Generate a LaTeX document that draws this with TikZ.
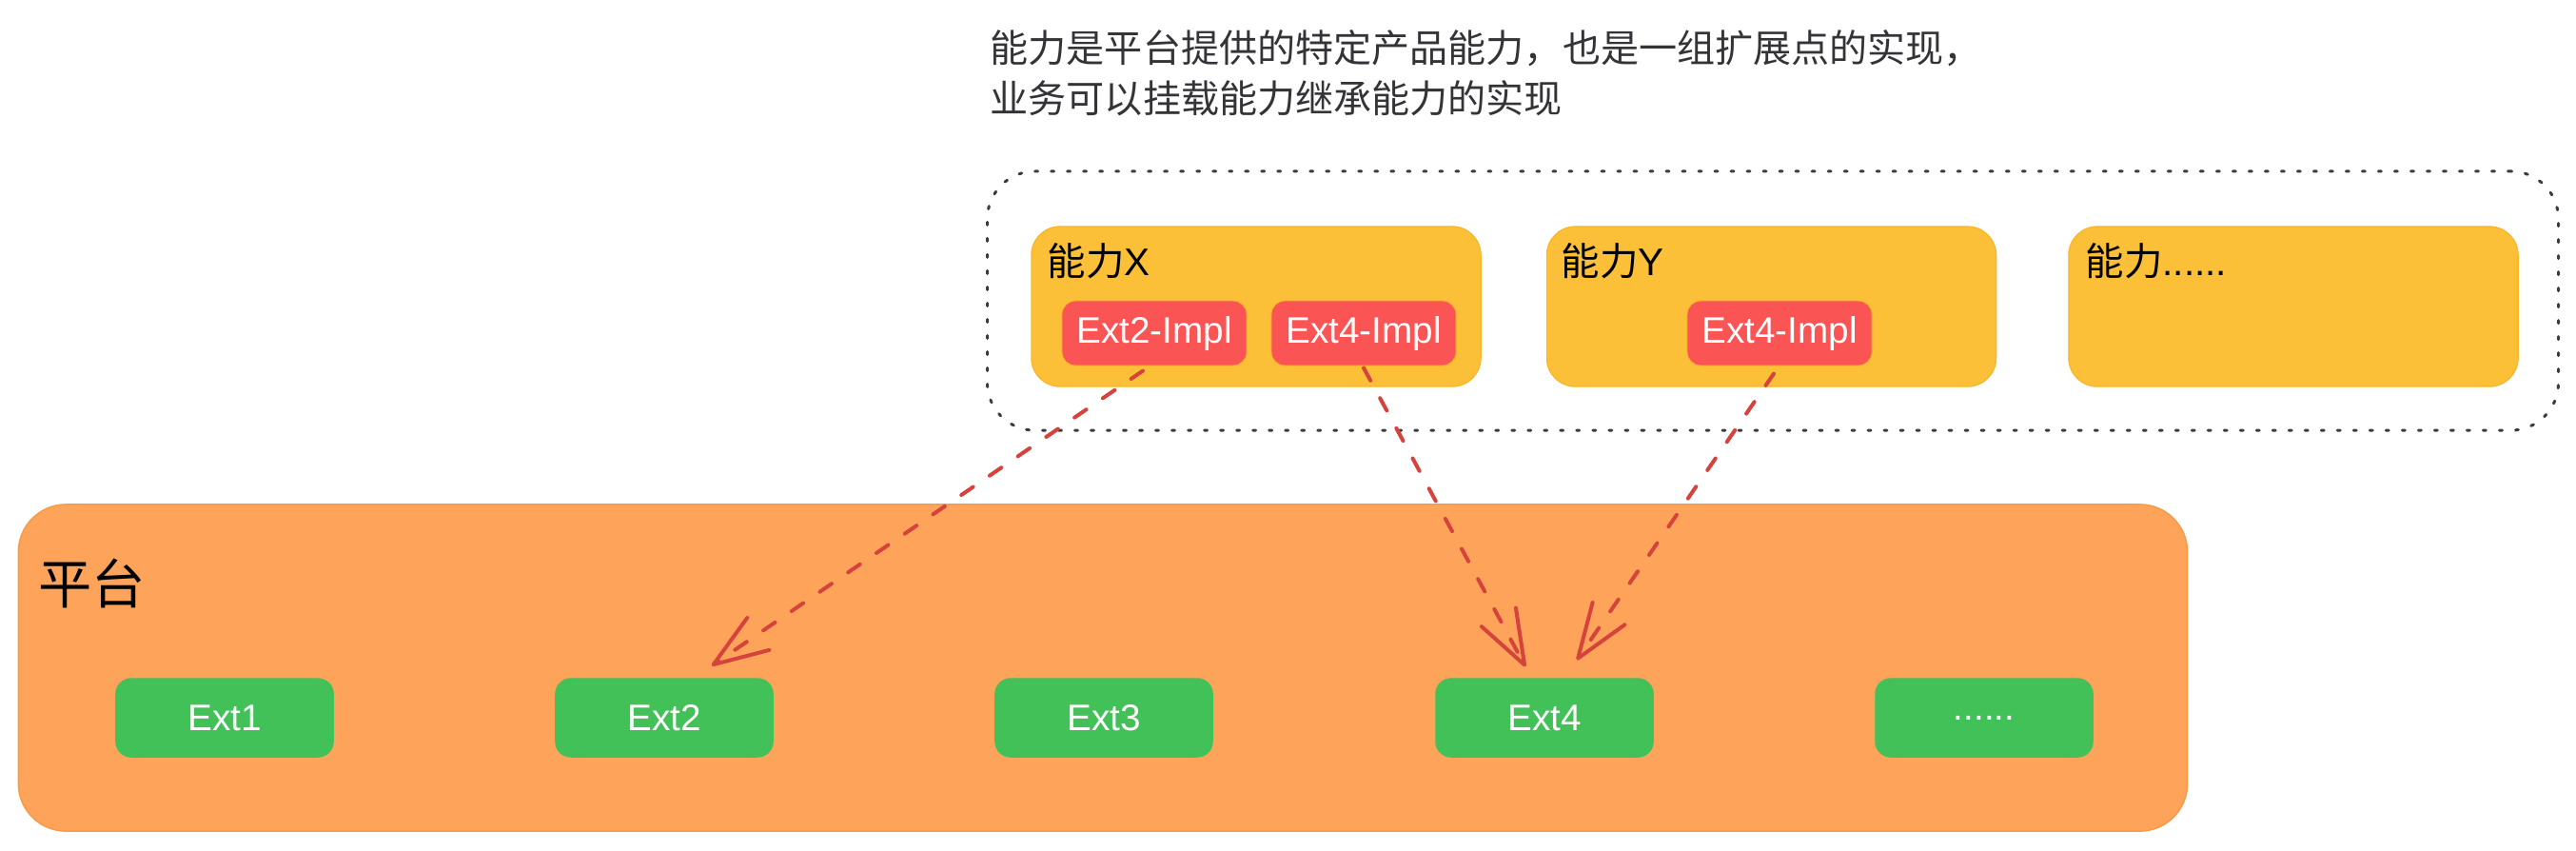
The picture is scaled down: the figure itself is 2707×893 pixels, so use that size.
\documentclass[tikz,border=0pt]{standalone}
\usepackage{fontspec}
\setmainfont{Liberation Sans}
\newfontfamily\cjk{Noto Sans CJK SC}
\usetikzlibrary{arrows.meta}
\definecolor{capyellow}{RGB}{251,192,55}
\definecolor{capedge}{RGB}{248,182,40}
\definecolor{implred}{RGB}{250,84,84}
\definecolor{platorange}{RGB}{253,164,90}
\definecolor{platedge}{RGB}{247,155,74}
\definecolor{extgreen}{RGB}{67,193,89}
\definecolor{arrred}{RGB}{214,66,60}
\definecolor{dotgray}{RGB}{60,60,64}
\definecolor{titlegray}{RGB}{51,51,56}
\begin{document}
\begin{tikzpicture}[x=0.01cm,y=-0.01cm,
  titletext/.style={anchor=base west,inner sep=0pt,text=titlegray,font=\cjk\fontsize{11.4}{14}\selectfont},
  caplabel/.style={anchor=base west,inner sep=0pt,text=black,font=\fontsize{11.5}{14}\selectfont},
  dotbox/.style={draw=dotgray,line width=0.03cm,line cap=round,dash pattern=on 0.03cm off 0.14cm,rounded corners=0.5cm,minimum width=16.5cm,minimum height=2.72cm,inner sep=0pt},
  capbox/.style={fill=capyellow,draw=capedge,line width=0.012cm,rounded corners=0.3cm,minimum width=4.72cm,minimum height=1.68cm,inner sep=0pt},
  implbox/.style={fill=implred,draw=capedge,line width=0.01cm,rounded corners=0.14cm,minimum width=1.94cm,minimum height=0.68cm,inner sep=0pt,text=white,font=\fontsize{11}{13}\selectfont},
  platbox/.style={fill=platorange,draw=platedge,line width=0.015cm,rounded corners=0.5cm,minimum width=22.78cm,minimum height=3.43cm,inner sep=0pt},
  extbox/.style={fill=extgreen,draw=extgreen,rounded corners=0.16cm,minimum width=2.28cm,minimum height=0.82cm,inner sep=0pt,text=white,font=\fontsize{11}{13}\selectfont},
  implarrow/.style={draw=arrred,line width=0.04cm,line cap=round,dash pattern=on 0.15cm off 0.21cm,-{Straight Barb[length=0.57cm,width=0.41cm,round]}}
]
\useasboundingbox (0,0) rectangle (2707,893);

% title
\node[titletext] (t1) at (1040,65) {能力是平台提供的特定产品能力，也是一组扩展点的实现，};
\node[titletext] (t2) at (1040,118) {业务可以挂载能力继承能力的实现};

% capability container
\node[dotbox] (caps) at (1863,316) {};

% capability boxes
\node[capbox] (capx) at (1320,322) {};
\node[capbox] (capy) at (1861.5,322) {};
\node[capbox] (capm) at (2410,322) {};
\node[caplabel] (lx) at (1100,289) {{\cjk 能力}X};
\node[caplabel] (ly) at (1640,289) {{\cjk 能力}Y};
\node[caplabel] (lm) at (2191,289) {{\cjk 能力}......};

\node[implbox] (e2i) at (1213,350) {Ext2-Impl};
\node[implbox] (e4ix) at (1433,350) {Ext4-Impl};
\node[implbox] (e4iy) at (1870,350) {Ext4-Impl};

% platform
\node[platbox] (plat) at (1159,701.5) {};
\node[anchor=base west,inner sep=0pt,font=\cjk\fontsize{16}{19}\selectfont] (platlabel) at (40,634) {平台};

\node[extbox] (ext1) at (236,754) {Ext1};
\node[extbox] (ext2) at (698,754) {Ext2};
\node[extbox] (ext3) at (1160,754) {Ext3};
\node[extbox] (ext4) at (1623,754) {Ext4};
\node[extbox] (extm) at (2085,754) {......};

% connectors
\draw[implarrow] ([xshift=-0.12cm,yshift=-0.05cm]e2i.south) -- ([xshift=0.5cm,yshift=0.13cm]ext2.north);
\draw[implarrow] ([yshift=-0.02cm]e4ix.south) -- ([xshift=-0.2cm,yshift=0.12cm]ext4.north);
\draw[implarrow] ([xshift=-0.06cm,yshift=-0.08cm]e4iy.south) -- ([xshift=0.34cm,yshift=0.19cm]ext4.north);
\end{tikzpicture}
\end{document}
